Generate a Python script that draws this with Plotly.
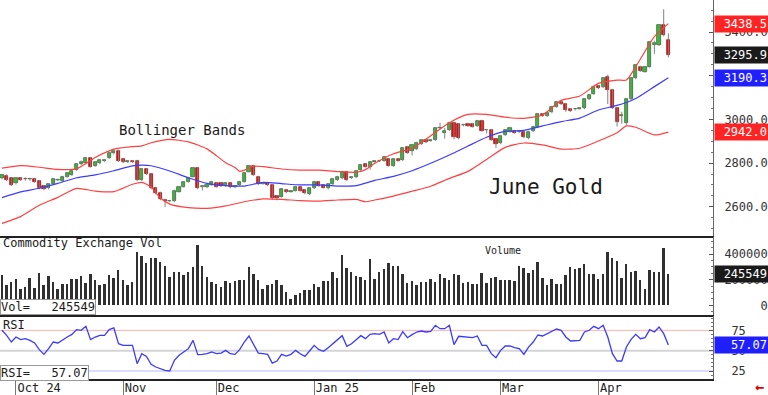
import plotly.graph_objects as go

# ---------------- data ----------------
opens = [2730, 2742, 2730, 2707, 2730, 2727, 2726, 2726, 2718, 2695,
         2685, 2704, 2722, 2718, 2738, 2746, 2768, 2794, 2799, 2822,
         2788, 2799, 2810, 2822, 2845, 2857, 2817, 2806, 2807, 2811,
         2723, 2771, 2750, 2688, 2665, 2631, 2627, 2627, 2669, 2692,
         2715, 2738, 2776, 2692, 2689, 2700, 2707, 2707, 2697, 2707,
         2692, 2700, 2715, 2761, 2788, 2738, 2706, 2710, 2700, 2649,
         2646, 2677, 2669, 2674, 2692, 2677, 2659, 2685, 2715, 2700,
         2685, 2703, 2723, 2730, 2761, 2734, 2735, 2768, 2794, 2784,
         2806, 2809, 2811, 2817, 2788, 2819, 2814, 2875, 2857, 2865,
         2887, 2906, 2902, 2906, 2959, 2940, 2951, 2982, 2978, 2974,
         2979, 2979, 2970, 2994, 2951, 2951, 2909, 2890, 2929, 2944,
         2948, 2944, 2944, 2913, 2947, 2964, 3025, 3016, 3032, 3058,
         3081, 3071, 3048, 3046, 3049, 3051, 3092, 3116, 3153, 3147,
         3192, 3135, 3051, 3015, 2985, 3092, 3188, 3241, 3219, 3241,
         3340, 3340, 3432, 3363]
highs = [2750, 2748, 2735, 2735, 2735, 2735, 2733, 2730, 2722, 2700,
         2708, 2731, 2729, 2742, 2757, 2768, 2798, 2812, 2828, 2828,
         2808, 2818, 2816, 2852, 2862, 2862, 2822, 2812, 2813, 2815,
         2776, 2775, 2754, 2692, 2669, 2636, 2632, 2678, 2696, 2716,
         2734, 2780, 2780, 2700, 2704, 2719, 2711, 2711, 2711, 2711,
         2698, 2719, 2757, 2792, 2792, 2742, 2712, 2714, 2704, 2653,
         2685, 2681, 2674, 2696, 2696, 2681, 2689, 2719, 2719, 2704,
         2708, 2730, 2742, 2765, 2765, 2740, 2769, 2795, 2798, 2808,
         2811, 2815, 2833, 2821, 2823, 2823, 2872, 2879, 2887, 2898,
         2910, 2910, 2907, 2963, 2985, 2960, 2986, 2986, 2983, 2980,
         2983, 2983, 2998, 2998, 2956, 2955, 2913, 2928, 2956, 2966,
         2952, 2950, 2948, 2948, 2971, 3029, 3029, 3032, 3062, 3085,
         3085, 3075, 3052, 3052, 3055, 3096, 3116, 3154, 3157, 3192,
         3205, 3139, 3055, 3035, 3096, 3192, 3253, 3245, 3245, 3357,
         3360, 3436, 3504, 3394]
lows = [2725, 2718, 2695, 2702, 2718, 2720, 2719, 2710, 2680, 2676,
        2680, 2700, 2717, 2714, 2734, 2742, 2765, 2790, 2795, 2780,
        2783, 2795, 2806, 2818, 2840, 2806, 2800, 2800, 2801, 2718,
        2718, 2746, 2680, 2657, 2630, 2600, 2620, 2622, 2665, 2688,
        2711, 2734, 2680, 2675, 2685, 2696, 2688, 2690, 2692, 2685,
        2685, 2696, 2711, 2757, 2742, 2700, 2702, 2694, 2634, 2630,
        2642, 2662, 2665, 2670, 2670, 2657, 2654, 2681, 2691, 2684,
        2680, 2699, 2719, 2726, 2719, 2728, 2731, 2764, 2780, 2770,
        2802, 2805, 2807, 2784, 2784, 2807, 2810, 2843, 2835, 2860,
        2883, 2891, 2898, 2902, 2955, 2912, 2947, 2909, 2909, 2968,
        2966, 2963, 2966, 2944, 2935, 2902, 2870, 2886, 2925, 2940,
        2935, 2939, 2914, 2909, 2943, 2960, 3012, 3012, 3028, 3054,
        3066, 3035, 3035, 3041, 3045, 3047, 3088, 3112, 3138, 3143,
        3070, 3047, 2967, 2980, 2975, 3088, 3184, 3218, 3214, 3237,
        3300, 3336, 3380, 3284]
closes = [2746, 2723, 2700, 2730, 2723, 2726, 2727, 2715, 2685, 2681,
          2704, 2727, 2724, 2738, 2753, 2764, 2794, 2806, 2822, 2784,
          2804, 2814, 2812, 2848, 2857, 2811, 2804, 2807, 2806, 2723,
          2771, 2750, 2685, 2662, 2634, 2627, 2628, 2674, 2692, 2712,
          2730, 2776, 2685, 2693, 2700, 2715, 2692, 2695, 2707, 2689,
          2693, 2715, 2753, 2788, 2746, 2704, 2708, 2698, 2639, 2639,
          2681, 2666, 2670, 2692, 2674, 2662, 2685, 2715, 2695, 2688,
          2704, 2726, 2738, 2761, 2723, 2736, 2765, 2791, 2784, 2804,
          2807, 2811, 2829, 2788, 2819, 2811, 2868, 2848, 2883, 2894,
          2906, 2895, 2903, 2959, 2960, 2945, 2982, 2920, 2913, 2975,
          2970, 2967, 2994, 2948, 2952, 2906, 2887, 2924, 2952, 2962,
          2939, 2945, 2918, 2944, 2967, 3025, 3016, 3028, 3058, 3081,
          3071, 3043, 3040, 3047, 3051, 3092, 3112, 3150, 3142, 3188,
          3135, 3051, 2990, 3020, 3092, 3188, 3249, 3223, 3241, 3353,
          3350, 3432, 3386, 3295.9]
volumes = [235000, 157000, 183000, 209000, 130000, 144000, 214000, 138000, 253000, 157000,
           227000, 183000, 125000, 165000, 169000, 209000, 209000, 227000, 175000, 243000,
           196000, 157000, 169000, 235000, 216000, 279000, 201000, 162000, 183000, 418000,
           384000, 332000, 366000, 366000, 340000, 306000, 222000, 256000, 256000, 240000,
           261000, 300000, 470000, 304000, 222000, 183000, 163000, 144000, 187000, 171000,
           191000, 198000, 198000, 301000, 245000, 195000, 124000, 158000, 165000, 195000,
           158000, 106000, 53000, 79000, 98000, 118000, 116000, 165000, 145000, 191000,
           191000, 263000, 216000, 393000, 294000, 256000, 226000, 224000, 197000, 361000,
           206000, 256000, 282000, 332000, 306000, 306000, 243000, 175000, 191000, 157000,
           183000, 183000, 204000, 183000, 243000, 216000, 196000, 243000, 235000, 175000,
           183000, 169000, 169000, 253000, 175000, 216000, 222000, 196000, 201000, 201000,
           191000, 306000, 293000, 253000, 275000, 334000, 216000, 162000, 209000, 165000,
           169000, 240000, 300000, 282000, 293000, 326000, 243000, 243000, 209000, 243000,
           418000, 365000, 347000, 216000, 322000, 261000, 267000, 196000, 130000, 275000,
           261000, 261000, 449000, 245549]
rsi = [75.1, 68.9, 60.7, 66.8, 63.6, 64.8, 62.7, 59.5, 51.3, 45.5,
       52.5, 60.7, 59.5, 63.6, 66.8, 70.1, 75.9, 75.1, 80.0, 63.6,
       66.8, 68.9, 68.9, 75.9, 78.0, 58.6, 56.6, 56.6, 56.6, 34.0,
       46.3, 43.0, 33.2, 29.9, 27.4, 25.8, 25.0, 38.1, 44.3, 48.4,
       52.5, 62.7, 45.1, 45.5, 46.3, 48.4, 46.3, 47.1, 50.4, 46.3,
       45.5, 51.3, 60.7, 68.1, 57.8, 47.1, 46.3, 45.5, 34.8, 37.3,
       45.5, 43.4, 45.5, 50.4, 46.3, 43.0, 49.6, 56.6, 51.3, 49.2,
       53.7, 58.6, 62.7, 68.5, 55.4, 58.6, 63.6, 68.5, 64.8, 70.1,
       71.0, 70.1, 73.0, 59.5, 64.8, 63.6, 73.4, 66.0, 69.7, 73.0,
       74.2, 73.0, 73.8, 81.2, 77.1, 77.1, 81.2, 57.4, 67.7, 66.9,
       66.9, 66.0, 68.1, 56.6, 56.6, 46.3, 41.4, 50.4, 55.8, 55.8,
       53.7, 52.5, 45.5, 54.5, 60.7, 69.3, 68.1, 71.0, 74.2, 76.7,
       75.1, 66.9, 61.9, 62.7, 62.7, 73.0, 75.1, 80.0, 77.1, 81.2,
       66.9, 46.3, 37.3, 37.3, 54.5, 64.0, 70.1, 64.8, 66.0, 75.9,
       73.0, 79.2, 71.0, 57.07]

upper_x = [0, 4, 8, 12, 16, 20, 24, 28, 30, 32, 34, 36, 40, 44, 48, 50, 51, 52, 54, 56,
           60, 64, 68, 72, 76, 78, 80, 84, 88, 92, 96, 100, 104, 108, 112, 116, 120, 124,
           128, 132, 134, 136, 140, 143]
upper_y = [2777, 2788, 2781, 2771, 2774, 2826, 2864, 2875, 2879, 2893, 2903, 2909, 2897,
           2865, 2802, 2780, 2762, 2768, 2786, 2784, 2773, 2768, 2768, 2761, 2758, 2770,
           2799, 2843, 2868, 2925, 2985, 3023, 3023, 3010, 3005, 3020, 3087, 3107, 3165,
           3180, 3180, 3241, 3379, 3438.5]
mid_x = [0, 4, 8, 12, 16, 20, 24, 28, 30, 32, 36, 40, 44, 48, 52, 56, 60, 64, 68, 72, 76,
         80, 84, 88, 92, 96, 100, 104, 108, 112, 116, 120, 124, 128, 132, 136, 140, 143]
mid_y = [2642, 2668, 2685, 2707, 2733, 2746, 2765, 2787, 2791, 2788, 2764, 2733, 2707,
         2697, 2695, 2712, 2706, 2700, 2700, 2695, 2697, 2721, 2739, 2765, 2799, 2837,
         2878, 2918, 2945, 2950, 2970, 2990, 3006, 3043, 3064, 3096, 3150, 3190.3]
lower_x = [0, 4, 8, 12, 16, 20, 24, 28, 30, 32, 34, 36, 40, 44, 48, 52, 56, 60, 64, 68, 72,
           76, 78, 80, 84, 88, 92, 96, 100, 104, 108, 112, 116, 120, 124, 128, 132, 134,
           136, 140, 143]
lower_y = [2524, 2555, 2607, 2643, 2684, 2672, 2669, 2703, 2712, 2690, 2640, 2612, 2596,
           2593, 2604, 2623, 2636, 2634, 2628, 2626, 2631, 2634, 2623, 2631, 2649, 2671,
           2694, 2730, 2762, 2817, 2872, 2892, 2883, 2864, 2868, 2901, 2939, 2970, 2964,
           2929, 2942.0]

month_ticks = [3, 26, 46, 67, 88, 107, 128]
month_labels = ["Oct 24", "Nov", "Dec", "Jan 25", "Feb", "Mar", "Apr"]

price_ticks = [2600, 2800, 3000, 3200, 3400]
vol_ticks = [0, 200000, 400000]
rsi_ticks = [25, 50, 75]

# ---------------- figure ----------------
MONO = "DejaVu Sans Mono"
H = 379.0  # plot area height in px (395 - bottom margin)
W = 713.0  # plot area width in px


def yp(px):
    return 1 - px / H


idx = list(range(len(closes)))
fig = go.Figure()

# wicks
wx, wy = [], []
for i in idx:
    wx += [i, i, None]
    wy += [lows[i], highs[i], None]
fig.add_trace(go.Scatter(x=wx, y=wy, mode="lines", line=dict(color="#808080", width=1),
                         hoverinfo="skip", xaxis="x", yaxis="y"))

# bodies
up = [c >= o for o, c in zip(opens, closes)]
base = [min(o, c) for o, c in zip(opens, closes)]
body = [max(abs(c - o), 1.5) for o, c in zip(opens, closes)]
fig.add_trace(go.Bar(x=idx, y=body, base=base, width=0.68,
                     marker=dict(color=["#1fd41f" if u else "#e01010" for u in up],
                                 line=dict(color=["#2f4f2f" if u else "#9a0c0c" for u in up], width=0.7)),
                     xaxis="x", yaxis="y"))

# Bollinger bands
fig.add_trace(go.Scatter(x=upper_x, y=upper_y, mode="lines", line=dict(color="#ff4040", width=1.2, shape="spline", smoothing=0.6),
                         xaxis="x", yaxis="y"))
fig.add_trace(go.Scatter(x=mid_x, y=mid_y, mode="lines", line=dict(color="#3c3cff", width=1.2, shape="spline", smoothing=0.6),
                         xaxis="x", yaxis="y"))
fig.add_trace(go.Scatter(x=lower_x, y=lower_y, mode="lines", line=dict(color="#ff4040", width=1.2, shape="spline", smoothing=0.6),
                         xaxis="x", yaxis="y"))

# volume
fig.add_trace(go.Bar(x=idx, y=volumes, width=0.42, marker=dict(color="#303030", line=dict(width=0)),
                     xaxis="x2", yaxis="y2"))

# RSI
fig.add_trace(go.Scatter(x=idx, y=rsi, mode="lines", line=dict(color="#3a3aff", width=1.3),
                         xaxis="x3", yaxis="y3"))

xr = [-0.43, 152.58]
common_x = dict(range=xr, showgrid=False, zeroline=False, fixedrange=True, automargin=False)
common_y = dict(side="right", showgrid=False, zeroline=False, ticks="inside", ticklen=4,
                tickcolor="#555", showline=True, linecolor="#666", linewidth=1, automargin=False,
                tickfont=dict(family=MONO, size=12, color="#333"))

fig.update_layout(
    template="none",
    width=768, height=395,
    margin=dict(l=0, r=55, t=0, b=16, autoexpand=False),
    paper_bgcolor="white", plot_bgcolor="white",
    showlegend=False, bargap=0,
    xaxis=dict(**common_x, domain=[0, 1], anchor="y", showticklabels=False, ticks="",
               showline=True, linecolor="#222", linewidth=2),
    xaxis2=dict(**common_x, domain=[0, 1], anchor="y2", matches="x", showticklabels=False, ticks="",
                showline=True, linecolor="#222", linewidth=2),
    xaxis3=dict(**common_x, domain=[0, 1], anchor="y3", matches="x",
                tickmode="array", tickvals=month_ticks, ticktext=month_labels,
                ticks="outside", ticklen=16, tickcolor="#777", tickwidth=1,
                ticklabelposition="outside right", ticklabelstandoff=-3,
                tickfont=dict(family=MONO, size=12, color="#222"),
                showline=True, linecolor="#222", linewidth=2),
    yaxis=dict(**common_y, domain=[yp(236), 1], anchor="x", range=[2466.3, 3546.5],
               tickmode="array", tickvals=price_ticks, ticktext=[f"{v:.1f}" for v in price_ticks],
               ticklabelstandoff=8,
               minor=dict(ticks="inside", ticklen=2, dtick=50, tickcolor="#777")),
    yaxis2=dict(**common_y, domain=[yp(315), yp(237)], anchor="x2", range=[-75600, 532600],
                tickmode="array", tickvals=vol_ticks,
                ticktext=[f"{v:d}".rjust(6, "\u00a0") for v in vol_ticks],
                ticklabelstandoff=8,
                minor=dict(ticks="inside", ticklen=2, dtick=50000, tickcolor="#777")),
    yaxis3=dict(**common_y, domain=[0, yp(316)], anchor="x3", range=[15.15, 92.7],
                tickmode="array", tickvals=rsi_ticks, ticktext=[str(v) for v in rsi_ticks],
                ticklabelstandoff=15,
                minor=dict(ticks="inside", ticklen=2, dtick=5, tickcolor="#777")),
)

# RSI reference lines
for lvl, col, wdt in [(75, "#ffb0b0", 1), (50, "#d4d4d4", 2), (25, "#b8b8ff", 1)]:
    fig.add_shape(type="line", xref="x3 domain", yref="y3", x0=0, x1=1, y0=lvl, y1=lvl,
                  line=dict(color=col, width=wdt), layer="below")

def note(text, xpx, ypx, size, **kw):
    fig.add_annotation(text=text, xref="paper", yref="paper", x=xpx / W, y=yp(ypx),
                       xanchor="left", yanchor="middle", showarrow=False,
                       font=dict(family=MONO, size=size, color=kw.pop("color", "#1a1a1a")), **kw)

note("Bollinger Bands", 117, 130, 14)
note("June Gold", 487, 187, 21)
note("Commodity Exchange Vol", 1, 243, 12)
note("Volume", 483, 250, 10)
note("RSI", 1, 325, 12)
note("Vol=\u00a0\u00a0\u00a0" + f"{volumes[-1]:d}", 0, 306.5, 12,
     bgcolor="white", bordercolor="#999", borderwidth=1, borderpad=0)
note("RSI=\u00a0\u00a0\u00a0" + f"{rsi[-1]:.2f}", 0, 372.5, 12,
     bgcolor="white", bordercolor="#999", borderwidth=1, borderpad=0)
note("<b>\u2190</b>", 753, 387, 15, color="#e00000")

# right-side value tags
tags = [
    ("y", upper_y[-1], f"{upper_y[-1]:.1f}", "#ff2424"),
    ("y", closes[-1], f"{closes[-1]:.1f}", "#1a1a1a"),
    ("y", mid_y[-1], f"{mid_y[-1]:.1f}", "#2020ff"),
    ("y", lower_y[-1], f"{lower_y[-1]:.1f}", "#ff2424"),
    ("y2", volumes[-1], f"{volumes[-1]:d}", "#1a1a1a"),
    ("y3", rsi[-1], f"{rsi[-1]:.2f}", "#2020ff"),
]
for yref, val, txt, col in tags:
    fig.add_annotation(text=txt, xref="paper", yref=yref, x=1, y=val, xanchor="left", yanchor="middle",
                       xshift=1, showarrow=False, width=51, align="right", bgcolor=col, borderpad=1,
                       font=dict(family=MONO, size=12, color="white"))

fig.write_html("out.html", config={"displayModeBar": False},
               post_script="document.body.style.margin='0';document.body.style.overflow='hidden';")
